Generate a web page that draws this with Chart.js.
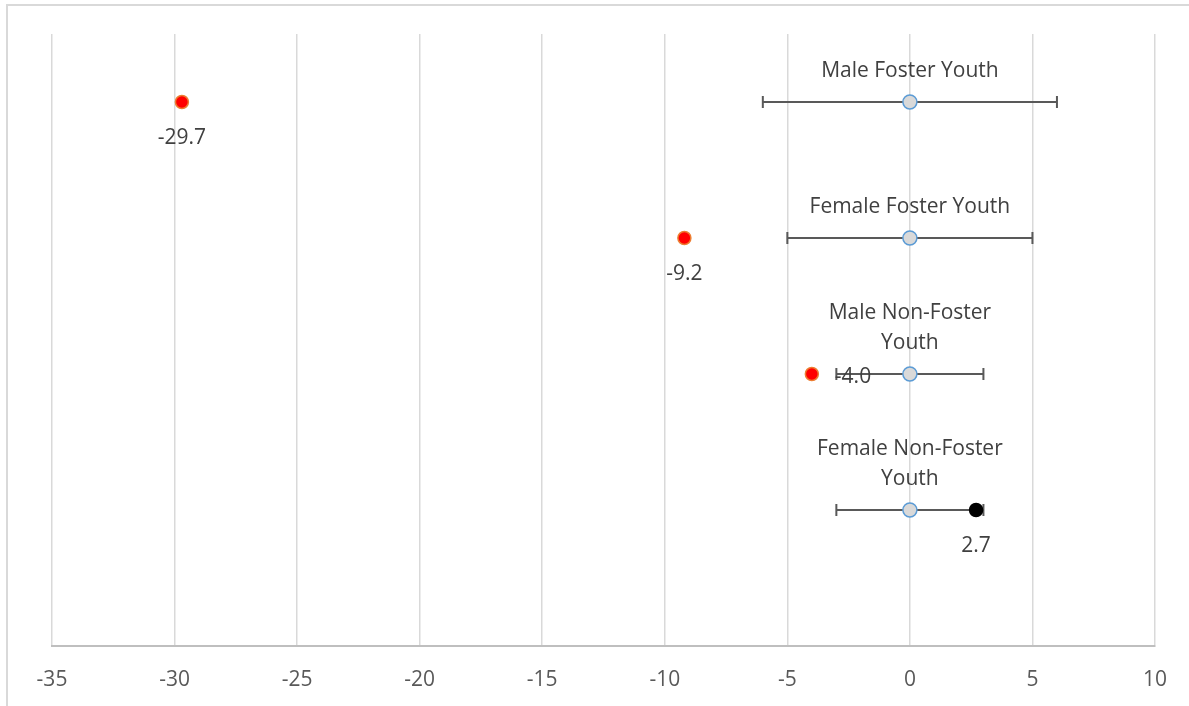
<!DOCTYPE html>
<html>
<head>
<meta charset="utf-8">
<script src="https://cdn.jsdelivr.net/npm/chart.js@4"></script>
<style>
  html, body { margin: 0; padding: 0; background: #ffffff; overflow: hidden; }
  #wrap { position: relative; width: 1189px; height: 706px; }
  #frame { position: absolute; left: 6px; top: 4px; width: 1300px; height: 800px;
           border: 2px solid #d9d9d9; box-sizing: border-box; pointer-events: none; }
  canvas { position: absolute; left: 0; top: 0; }
</style>
</head>
<body>
<div id="wrap">
  <div id="frame"></div>
  <canvas id="chart" width="1189" height="706"></canvas>
</div>
<script>
// Groups, listed top to bottom (multi-line names are pre-wrapped)
const categories = [
  ['Male Foster Youth'],
  ['Female Foster Youth'],
  ['Male Non-Foster', 'Youth'],
  ['Female Non-Foster', 'Youth']
];
// Vertical slot of each group on the hidden y scale
const rowPositions = [4, 3, 2, 1];
// Reference centre and half-width of each interval
const referenceValues = [0, 0, 0, 0];
const intervalHalfWidths = [6, 5, 3, 3];
// Observed value for each group
const observedValues = [-29.7, -9.2, -4.0, 2.7];
// Axis range and tick spacing
const xMin = -35, xMax = 10, xStep = 5;
const yMin = 0, yMax = 4.5;

// Styling
const FONT = '"Open Sans", "Noto Sans", sans-serif';
const TEXT_COLOR = '#404040';
const valueLabelPlacement = ['below', 'below', 'right', 'below'];

const refPoints = categories.map((c, i) => ({ x: referenceValues[i], y: rowPositions[i] }));
const obsPoints = observedValues.map((v, i) => ({ x: v, y: rowPositions[i] }));

const errorBars = {
  id: 'errorBars',
  beforeDatasetsDraw(chart) {
    const { ctx, scales: { x, y } } = chart;
    ctx.save();
    ctx.strokeStyle = '#595959';
    ctx.lineWidth = 2;
    referenceValues.forEach((c, i) => {
      const x0 = x.getPixelForValue(c - intervalHalfWidths[i]);
      const x1 = x.getPixelForValue(c + intervalHalfWidths[i]);
      const py = y.getPixelForValue(rowPositions[i]);
      ctx.beginPath();
      ctx.moveTo(x0, py); ctx.lineTo(x1, py);
      ctx.moveTo(x0, py - 6); ctx.lineTo(x0, py + 6);
      ctx.moveTo(x1, py - 6); ctx.lineTo(x1, py + 6);
      ctx.stroke();
    });
    ctx.restore();
  }
};

const textLabels = {
  id: 'textLabels',
  afterDatasetsDraw(chart) {
    const { ctx, scales: { x, y } } = chart;
    ctx.save();
    ctx.font = '21px ' + FONT;
    ctx.fillStyle = TEXT_COLOR;
    ctx.textBaseline = 'middle';
    // group names above the reference points
    categories.forEach((lines, i) => {
      const px = x.getPixelForValue(referenceValues[i]);
      const py = y.getPixelForValue(rowPositions[i]);
      ctx.textAlign = 'center';
      lines.forEach((line, k) => {
        const offset = 31 + (lines.length - 1 - k) * 30;
        ctx.fillText(line, px, py - offset);
      });
    });
    // observed values
    observedValues.forEach((v, i) => {
      const px = x.getPixelForValue(v);
      const py = y.getPixelForValue(rowPositions[i]);
      const txt = v.toFixed(1);
      if (valueLabelPlacement[i] === 'right') {
        ctx.textAlign = 'left';
        ctx.fillText(txt, px + 23, py + 3);
      } else {
        ctx.textAlign = 'center';
        ctx.fillText(txt, px, py + 36);
      }
    });
    ctx.restore();
  }
};

new Chart(document.getElementById('chart'), {
  type: 'scatter',
  data: {
    datasets: [
      {
        data: obsPoints,
        pointRadius: 6.5,
        pointBorderWidth: 1.5,
        pointBackgroundColor: observedValues.map(v => v < 0 ? '#ff0000' : '#000000'),
        pointBorderColor: observedValues.map(v => v < 0 ? '#ed7d31' : '#000000'),
        showLine: false
      },
      {
        data: refPoints,
        pointRadius: 7,
        pointBorderWidth: 1.5,
        pointBackgroundColor: '#d9d9d9',
        pointBorderColor: '#5b9bd5',
        showLine: false
      }
    ]
  },
  options: {
    responsive: false,
    animation: false,
    events: [],
    layout: { padding: { left: 52, right: 34, top: 34, bottom: 0 } },
    plugins: { legend: { display: false }, tooltip: { enabled: false } },
    scales: {
      x: {
        type: 'linear',
        min: xMin, max: xMax,
        afterFit(scale) { scale.height = 60; },
        ticks: {
          stepSize: xStep,
          padding: 21,
          color: '#595959',
          font: { family: FONT, size: 21 }
        },
        grid: { color: '#d9d9d9', lineWidth: 1.5, drawTicks: false },
        border: { color: '#bfbfbf', width: 2 }
      },
      y: {
        type: 'linear',
        min: yMin, max: yMax,
        display: false
      }
    }
  },
  plugins: [errorBars, textLabels]
});
</script>
</body>
</html>
